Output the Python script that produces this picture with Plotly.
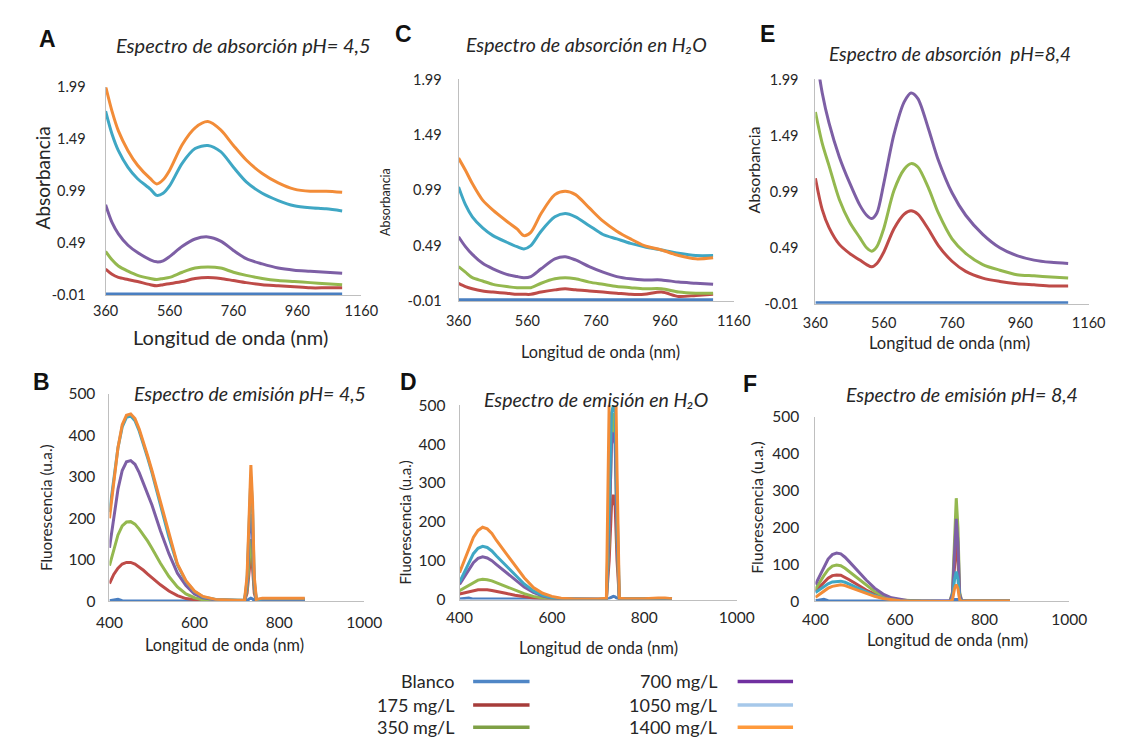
import plotly.graph_objects as go

W, H = 1121, 740
FONT = "Lato"
TXT = "#262626"

series_names = ["Blanco", "175 mg/L", "350 mg/L", "700 mg/L", "1050 mg/L", "1400 mg/L"]
line_colors = ["#4A7FC1", "#BE4B48", "#94B84F", "#7D5FA5", "#3FA7C4", "#F28C38"]
legend_colors = ["#4F86C6", "#A63C3A", "#7EA045", "#7030A0", "#A6C8EA", "#FF9A3C"]

# ---------------- Absorption data ----------------
abs_ticks_x = [360, 560, 760, 960, 1160]
abs_ticks_y = [-0.01, 0.49, 0.99, 1.49, 1.99]

wl_A = [360, 380, 400, 430, 460, 500, 520, 540, 560, 600, 640, 680, 720, 760, 800, 850, 900, 950, 1000, 1050, 1100]
A_blanco = [0.0] * 21
A_175 = [0.24, 0.19, 0.16, 0.14, 0.12, 0.09, 0.08, 0.09, 0.10, 0.12, 0.15, 0.16, 0.15, 0.13, 0.11, 0.09, 0.08, 0.07, 0.06, 0.06, 0.06]
A_350 = [0.41, 0.33, 0.27, 0.22, 0.18, 0.15, 0.14, 0.15, 0.16, 0.21, 0.25, 0.26, 0.25, 0.21, 0.18, 0.15, 0.13, 0.12, 0.11, 0.10, 0.09]
A_700 = [0.86, 0.69, 0.58, 0.47, 0.40, 0.33, 0.31, 0.32, 0.36, 0.46, 0.53, 0.55, 0.51, 0.42, 0.34, 0.29, 0.25, 0.23, 0.22, 0.21, 0.20]
A_1050 = [1.76, 1.54, 1.38, 1.22, 1.11, 1.01, 0.95, 0.97, 1.04, 1.26, 1.40, 1.43, 1.37, 1.22, 1.08, 0.97, 0.90, 0.85, 0.83, 0.82, 0.80]
A_1400 = [2.00, 1.76, 1.57, 1.38, 1.24, 1.11, 1.06, 1.10, 1.19, 1.44, 1.60, 1.66, 1.58, 1.43, 1.29, 1.16, 1.07, 1.01, 0.99, 0.99, 0.98]

wl_C = [360, 380, 400, 430, 460, 500, 530, 550, 570, 600, 640, 670, 700, 740, 780, 820, 860, 900, 950, 1000, 1050, 1100]
C_blanco = [0.0] * 22
C_175 = [0.15, 0.12, 0.10, 0.08, 0.07, 0.06, 0.05, 0.05, 0.05, 0.07, 0.09, 0.10, 0.09, 0.08, 0.07, 0.06, 0.05, 0.05, 0.07, 0.03, 0.04, 0.05]
C_350 = [0.30, 0.25, 0.20, 0.17, 0.14, 0.12, 0.11, 0.11, 0.11, 0.15, 0.19, 0.20, 0.19, 0.16, 0.14, 0.12, 0.11, 0.10, 0.10, 0.07, 0.06, 0.06]
C_700 = [0.57, 0.48, 0.41, 0.33, 0.28, 0.23, 0.21, 0.20, 0.21, 0.28, 0.37, 0.39, 0.36, 0.30, 0.25, 0.21, 0.19, 0.18, 0.18, 0.16, 0.15, 0.14]
C_1050 = [1.02, 0.86, 0.75, 0.65, 0.58, 0.52, 0.48, 0.46, 0.49, 0.62, 0.75, 0.78, 0.75, 0.67, 0.59, 0.55, 0.51, 0.48, 0.45, 0.42, 0.40, 0.40]
C_1400 = [1.28, 1.17, 1.05, 0.90, 0.81, 0.71, 0.64, 0.58, 0.61, 0.78, 0.95, 0.98, 0.95, 0.83, 0.71, 0.62, 0.55, 0.49, 0.45, 0.40, 0.37, 0.38]

wl_E = [360, 380, 400, 430, 460, 490, 510, 525, 540, 560, 590, 620, 640, 660, 690, 720, 760, 800, 850, 900, 950, 1000, 1050, 1100]
E_blanco = [0.0] * 24
E_175 = [1.11, 0.83, 0.67, 0.52, 0.44, 0.38, 0.34, 0.32, 0.35, 0.45, 0.66, 0.79, 0.82, 0.79, 0.66, 0.51, 0.37, 0.28, 0.22, 0.19, 0.17, 0.16, 0.15, 0.15]
E_350 = [1.70, 1.42, 1.22, 0.92, 0.72, 0.58, 0.49, 0.46, 0.50, 0.66, 1.00, 1.19, 1.24, 1.21, 1.03, 0.80, 0.57, 0.44, 0.34, 0.29, 0.25, 0.24, 0.23, 0.22]
E_700 = [2.25, 1.87, 1.60, 1.30, 1.07, 0.87, 0.78, 0.75, 0.80, 1.06, 1.50, 1.79, 1.87, 1.82, 1.56, 1.27, 0.98, 0.78, 0.61, 0.49, 0.42, 0.38, 0.36, 0.35]

# ---------------- Emission data ----------------
em_ticks_x = [400, 600, 800, 1000]
em_ticks_y = [0, 100, 200, 300, 400, 500]
wl_em = [400, 410, 420, 430, 440, 450, 460, 470, 480, 490, 500, 520, 540, 560, 580, 600, 620, 650, 700,
         718, 724, 729, 733, 737, 741, 746, 760, 800, 830, 845, 860]

B_blanco = [2, 3, 5, 2, 1, 1, 1, 1, 1, 1, 1, 1, 1, 1, 1, 1, 1, 1, 1, 1, 2, 6, 8, 6, 2, 1, 1, 1, 1, 1, 1]
B_175 = [43, 65, 80, 90, 94, 94, 90, 83, 75, 66, 57, 40, 25, 14, 7, 4, 2, 1, 1, 1, 20, 80, 115, 80, 20, 2, 3, 3, 3, 3, 3]
B_350 = [86, 125, 160, 182, 191, 192, 186, 174, 160, 145, 128, 92, 60, 35, 18, 9, 4, 2, 1, 1, 30, 110, 150, 110, 30, 2, 4, 4, 4, 4, 4]
B_700 = [129, 200, 270, 315, 336, 339, 330, 310, 285, 258, 232, 170, 115, 68, 38, 18, 9, 4, 2, 2, 40, 160, 210, 160, 40, 3, 5, 5, 5, 5, 5]
B_1050 = [215, 295, 370, 420, 443, 446, 435, 410, 380, 345, 310, 235, 155, 88, 48, 24, 11, 5, 3, 3, 50, 220, 300, 220, 50, 4, 6, 6, 6, 6, 6]
B_1400 = [200, 290, 370, 425, 448, 451, 440, 415, 385, 350, 315, 240, 160, 90, 50, 25, 12, 5, 3, 3, 60, 240, 328, 240, 60, 5, 8, 8, 8, 8, 8]

D_blanco = [1, 2, 4, 1, 1, 1, 1, 1, 1, 1, 1, 1, 1, 1, 1, 1, 1, 1, 1, 1, 3, 7, 8, 7, 3, 1, 1, 1, 1, 1, 1]
D_175 = [14, 17, 20, 23, 25, 25, 25, 23, 21, 18, 16, 11, 7, 4, 2, 1, 0, 0, 0, 0, 100, 240, 270, 240, 100, 1, 1, 1, 1, 1, 1]
D_350 = [23, 30, 38, 45, 50, 52, 51, 48, 43, 38, 33, 23, 15, 8, 4, 2, 1, 0, 0, 0, 150, 420, 480, 420, 150, 1, 1, 1, 1, 1, 1]
D_700 = [39, 58, 78, 95, 106, 110, 107, 100, 90, 80, 70, 50, 32, 18, 9, 4, 2, 1, 0, 0, 180, 400, 430, 400, 180, 1, 1, 1, 1, 1, 1]
D_1050 = [44, 70, 95, 118, 132, 137, 134, 125, 112, 100, 87, 63, 40, 22, 11, 5, 2, 1, 0, 0, 250, 480, 500, 480, 250, 2, 2, 2, 2, 2, 2]
D_1400 = [69, 100, 130, 160, 178, 186, 182, 170, 152, 136, 119, 87, 56, 31, 16, 8, 3, 1, 1, 3, 510, 650, 650, 650, 330, 3, 2, 2, 4, 4, 2]

F_blanco = [2, 3, 6, 2, 1, 1, 1, 1, 1, 1, 1, 1, 1, 1, 1, 1, 1, 1, 1, 1, 2, 5, 6, 5, 2, 1, 1, 1, 1, 1, 1]
F_175 = [28, 40, 52, 63, 70, 72, 71, 66, 59, 52, 45, 31, 20, 11, 6, 3, 1, 0, 0, 0, 15, 110, 160, 110, 15, 0, 1, 1, 1, 1, 1]
F_350 = [33, 52, 70, 86, 96, 99, 97, 90, 81, 71, 61, 43, 27, 15, 8, 4, 2, 1, 0, 0, 25, 200, 280, 200, 25, 1, 1, 1, 1, 1, 1]
F_700 = [46, 70, 95, 115, 127, 131, 129, 120, 108, 95, 82, 58, 36, 20, 10, 5, 2, 1, 1, 1, 20, 160, 224, 160, 20, 1, 1, 1, 1, 1, 1]
F_1050 = [24, 32, 40, 48, 53, 55, 55, 52, 47, 41, 36, 25, 16, 9, 5, 2, 1, 0, 0, 0, 8, 60, 81, 60, 8, 0, 1, 1, 1, 1, 1]
F_1400 = [11, 20, 28, 36, 41, 44, 45, 43, 39, 35, 30, 21, 14, 8, 4, 2, 1, 0, 0, 0, 5, 35, 46, 35, 5, 0, 1, 1, 1, 1, 1]

panels = [
    # key, axis idx, wavelengths, series list, kind, pixel box (x0, x1, ytop, ybottom)
    ("A", 1, wl_A, [A_blanco, A_175, A_350, A_700, A_1050, A_1400], "abs", (87, 350, 71, 284)),
    ("C", 2, wl_C, [C_blanco, C_175, C_350, C_700, C_1050, C_1400], "abs", (450, 733, 63, 290)),
    ("E", 3, wl_E, [E_blanco, E_175, E_350, E_700], "abs", (817, 1098, 63, 293)),
    ("B", 4, wl_em, [B_blanco, B_175, B_350, B_700, B_1050, B_1400], "em", (91, 353, 385, 598)),
    ("D", 5, wl_em, [D_blanco, D_175, D_350, D_700, D_1050, D_1400], "em", (451, 736, 397, 596)),
    ("F", 6, wl_em, [F_blanco, F_175, F_350, F_700, F_1050, F_1400], "em", (817, 1078, 409, 598)),
]

# tick font size, x label standoff, y label standoff per panel
tick_style = {"A": (14.5, 3, 16), "C": (14.5, 7, 13), "E": (14.5, 6, 13),
              "B": (15.5, 7, 10), "D": (15.5, 4, 10), "F": (15.5, 4, 12)}


def px_x(p):
    return p / W


def px_y(p):
    return 1 - p / H


fig = go.Figure()
layout = {}
for key, i, wl, series, kind, box in panels:
    sfx = "" if i == 1 else str(i)
    x0, x1, yt, yb = box
    fs, xso, yso = tick_style[key]
    for j, ys in enumerate(series):
        fig.add_trace(go.Scatter(
            x=wl, y=ys, mode="lines", name=series_names[j], showlegend=False,
            line=dict(color=line_colors[j], width=3,
                      shape="spline" if kind == "abs" else "linear", smoothing=0.8),
            xaxis="x" + sfx, yaxis="y" + sfx, hoverinfo="skip"))
    if kind == "abs":
        xr, xt, yr, yt_vals = [360, 1160], abs_ticks_x, [-0.01, 1.99], abs_ticks_y
        ytext = ["%.2f" % v for v in abs_ticks_y]
    else:
        xr, xt, yr, yt_vals = [400, 1000], em_ticks_x, [0, 500], em_ticks_y
        ytext = [str(v) for v in em_ticks_y]
    layout["xaxis" + sfx] = dict(
        domain=[px_x(x0), px_x(x1)], range=xr, tickvals=xt, ticktext=[str(v) for v in xt],
        showline=True, linecolor="#BFBFBF", linewidth=1, showgrid=False, zeroline=False,
        ticks="", tickfont=dict(family=FONT, size=fs, color=TXT), ticklabelstandoff=xso,
        anchor="y" + sfx, fixedrange=True)
    layout["yaxis" + sfx] = dict(
        domain=[px_y(yb), px_y(yt)], range=yr, tickvals=yt_vals, ticktext=ytext,
        showline=True, linecolor="#BFBFBF", linewidth=1, showgrid=False, zeroline=False,
        ticks="", tickfont=dict(family=FONT, size=fs, color=TXT), ticklabelstandoff=yso,
        anchor="x" + sfx, fixedrange=True)

annotations = []


def ann(text, x, y, size, bold=False, italic=False, angle=0, xanchor="center"):
    t = text
    if italic:
        t = "<i>" + t + "</i>"
    if bold:
        t = "<b>" + t + "</b>"
    annotations.append(dict(text=t, x=px_x(x), y=px_y(y), xref="paper", yref="paper",
                            showarrow=False, textangle=angle, xanchor=xanchor, yanchor="middle",
                            font=dict(family=FONT if not bold else "Liberation Sans", size=size,
                                      color="#111111" if bold else TXT)))


# panel letters
for letter, x, y in [("A", 27, 22), ("C", 393, 16), ("E", 768, 16), ("B", 21, 373), ("D", 399, 373), ("F", 750, 375)]:
    ann(letter, x, y, 23, bold=True)

# panel titles
ann("Espectro de absorción pH= 4,5", 229, 28, 20, italic=True)
ann("Espectro de absorción en H₂O", 582, 27, 19.5, italic=True)
ann("Espectro de absorción  pH=8,4", 955, 36, 19, italic=True)
ann("Espectro de emisión pH= 4,5", 235, 385, 19.5, italic=True)
ann("Espectro de emisión en H₂O", 591, 391, 19.5, italic=True)
ann("Espectro de emisión pH= 8,4", 968, 386, 19.5, italic=True)

# axis titles
ann("Absorbancia", 22, 164, 19, angle=-90)
ann("Longitud de onda (nm)", 215, 327, 20)
ann("Absorbancia", 375, 189, 12.5, angle=-90)
ann("Longitud de onda (nm)", 596, 342, 16.3)
ann("Absorbancia", 753, 156, 16, angle=-90)
ann("Longitud de onda (nm)", 955, 333, 16.5)
ann("Fluorescencia (u.a.)", 25, 502, 15.3, angle=-90)
ann("Longitud de onda (nm)", 209, 642, 16.3)
ann("Fluorescencia (u.a.)", 395, 517, 15, angle=-90)
ann("Longitud de onda (nm)", 594, 645, 16.3)
ann("Fluorescencia (u.a.)", 757, 502, 16, angle=-90)
ann("Longitud de onda (nm)", 953, 638, 16.5)

# legend (text left of sample line)
shapes = []
leg_rows = [680, 704, 727]
for j, name in enumerate(series_names):
    col = j // 3
    row = j % 3
    text_right = 447 if col == 0 else 718
    lx0, lx1 = (465, 523) if col == 0 else (737, 794)
    y = leg_rows[row]
    ann(name, text_right, y, 18, xanchor="right")
    shapes.append(dict(type="line", xref="paper", yref="paper",
                       x0=px_x(lx0), x1=px_x(lx1), y0=px_y(y), y1=px_y(y),
                       line=dict(color=legend_colors[j], width=3.5)))

fig.update_layout(
    width=W, height=H, margin=dict(l=0, r=0, t=0, b=0),
    paper_bgcolor="white", plot_bgcolor="white", showlegend=False,
    annotations=annotations, shapes=shapes, **layout)

fig.write_html("out.html")
